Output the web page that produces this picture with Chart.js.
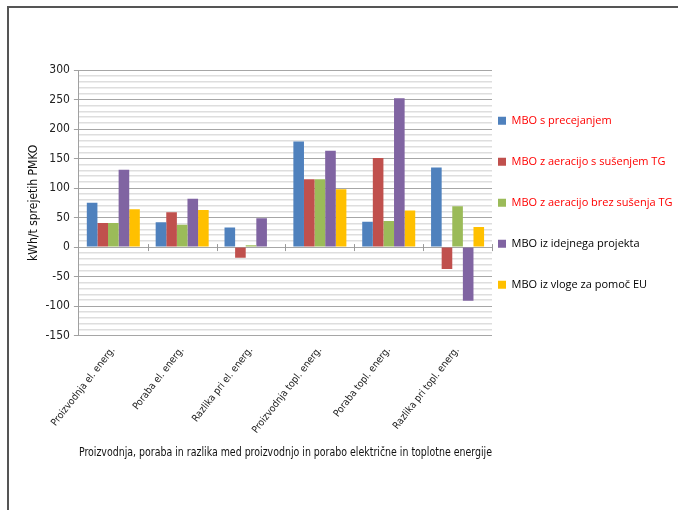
<!DOCTYPE html>
<html>
<head>
<meta charset="utf-8">
<script src="https://cdn.jsdelivr.net/npm/chart.js@4/dist/chart.umd.min.js"></script>
<style>
  html, body { margin: 0; padding: 0; background: #fff; }
  #wrap { position: relative; width: 678px; height: 510px; overflow: hidden; }
  #frame { position: absolute; left: 7px; top: 6px; width: 700px; height: 520px;
           border-left: 2px solid #555; border-top: 2px solid #555; box-sizing: border-box; }
  canvas { position: absolute; left: 0; top: 0; }
</style>
</head>
<body>
<div id="wrap">
  <div id="frame"></div>
  <canvas id="c" width="678" height="510"></canvas>
</div>
<script>
const categories = [
  "Proizvodnja el. energ.",
  "Poraba el. energ.",
  "Razlika pri el. energ.",
  "Proizvodnja topl. energ.",
  "Poraba topl. energ.",
  "Razlika pri topl. energ."
];
const seriesNames = [
  "MBO s precejanjem",
  "MBO z aeracijo s sušenjem TG",
  "MBO z aeracijo brez sušenja TG",
  "MBO iz idejnega projekta",
  "MBO iz vloge za pomoč EU"
];
const mboPrecejanje   = [75, 42, 33, 179, 43, 135];
const mboSusenje      = [41, 59, -18, 115, 151, -37];
const mboBrezSusenja  = [41, 38, 3, 115, 44, 69];
const mboIdejni       = [131, 82, 49, 163, 252, -91];
const mboVlogaEU      = [64, 63, 1, 98, 62, 34];
const seriesColors = ["#4F81BD", "#C0504D", "#9BBB59", "#8064A2", "#FFC000"];
const legendTextColors = ["#FF0000", "#FF0000", "#FF0000", "#000000", "#000000"];
const yTitle = "kWh/t sprejetih PMKO";
const xTitle = "Proizvodnja, poraba in razlika med proizvodnjo in porabo električne in toplotne energije";

const NARROW = "'Liberation Sans Narrow', 'DejaVu Sans Condensed', 'Open Sans', sans-serif";
const LEGEND_FONT = "'Open Sans', 'Noto Sans', sans-serif";
const LEGEND_PAD = 30;

const seriesValues = [mboPrecejanje, mboSusenje, mboBrezSusenja, mboIdejni, mboVlogaEU];
const datasets = seriesNames.map((name, i) => ({
  label: name,
  data: seriesValues[i],
  backgroundColor: seriesColors[i],
  borderWidth: 0,
  categoryPercentage: 0.77,
  barPercentage: 1.0
}));

const zeroTicks = {
  id: 'zeroTicks',
  afterDatasetsDraw(chart) {
    const x = chart.scales.x, y = chart.scales.y;
    const y0 = y.getPixelForValue(0);
    const ctx = chart.ctx;
    ctx.save();
    ctx.strokeStyle = '#9a9a9a';
    ctx.lineWidth = 1;
    for (let i = 1; i <= categories.length; i++) {
      const px = Math.round(x.getPixelForValue(i - 0.5)) + 0.5;
      ctx.beginPath();
      ctx.moveTo(px, y0 - 3);
      ctx.lineTo(px, y0 + 4);
      ctx.stroke();
    }
    ctx.restore();
  }
};

const legendShift = {
  id: 'legendShift',
  afterLayout(chart) {
    const lg = chart.legend;
    const ca = chart.chartArea;
    lg.left = ca.right + 6 - LEGEND_PAD;
    lg.right = chart.width;
    lg.width = lg.right - lg.left;
    const dy = (ca.top + ca.bottom) / 2 - (lg.top + lg.bottom) / 2;
    lg.top += dy;
    lg.bottom += dy;
  }
};

new Chart(document.getElementById('c'), {
  type: 'bar',
  data: { labels: categories, datasets },
  plugins: [zeroTicks, legendShift],
  options: {
    responsive: false,
    animation: false,
    layout: { padding: { top: 70, left: 27, right: 31, bottom: 50 } },
    plugins: {
      tooltip: { enabled: false },
      legend: {
        position: 'right',
        align: 'center',
        labels: {
          boxWidth: 8,
          boxHeight: 8,
          padding: LEGEND_PAD,
          font: { family: LEGEND_FONT, size: 11 },
          generateLabels(chart) {
            const items = Chart.defaults.plugins.legend.labels.generateLabels(chart);
            items.forEach((it, i) => { it.fontColor = legendTextColors[i]; it.lineWidth = 0; });
            return items;
          }
        }
      }
    },
    scales: {
      x: {
        offset: true,
        grid: { display: false, drawTicks: false },
        border: { display: false },
        ticks: {
          minRotation: 52, maxRotation: 52,
          color: '#222',
          padding: 9,
          font: { family: NARROW, size: 10 }
        },
        title: {
          display: true, text: xTitle, color: '#111',
          font: { family: NARROW, size: 11.8 },
          padding: { top: 1, bottom: 0 }
        }
      },
      y: {
        min: -150, max: 300,
        border: { display: true, color: '#a0a0a0' },
        grid: {
          color: (c) => (c.tick && c.tick.value % 50 === 0) ? '#a6a6a6' : '#dedede',
          lineWidth: (c) => (c.tick && c.tick.value % 50 === 0) ? 1 : 1.6,
          tickColor: (c) => (c.tick && c.tick.value % 50 === 0) ? '#a0a0a0' : 'rgba(0,0,0,0)',
          tickLength: 5
        },
        ticks: {
          stepSize: 10,
          maxTicksLimit: 100,
          autoSkip: false,
          color: '#222',
          padding: 4,
          font: { family: NARROW, size: 12 },
          callback: (v) => (v % 50 === 0 ? String(v) : '')
        },
        title: {
          display: true, text: yTitle, color: '#111',
          font: { family: NARROW, size: 12 },
          padding: { top: 0, bottom: 0 }
        }
      }
    }
  }
});
</script>
</body>
</html>
